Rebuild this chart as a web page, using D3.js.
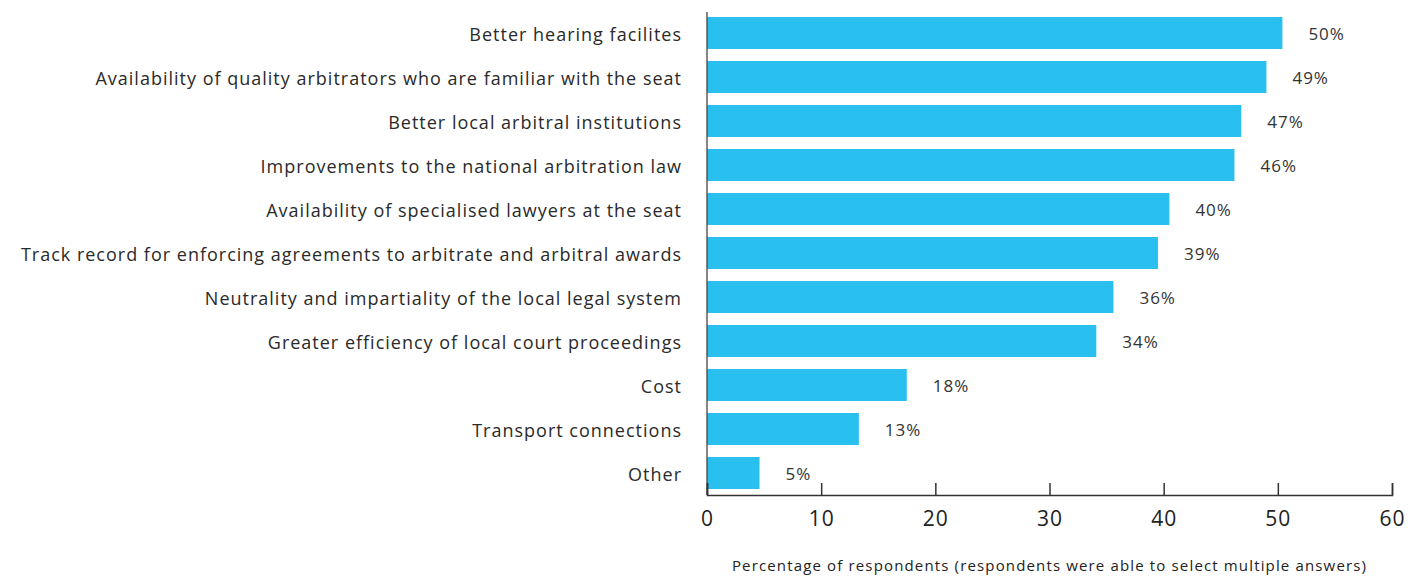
<!DOCTYPE html>
<html>
<head>
<meta charset="utf-8">
<script src="https://cdn.jsdelivr.net/npm/d3@7"></script>
<style>
  body { margin: 0; background: #fff; }
  svg { display: block; }
</style>
</head>
<body>
<div id="chart"></div>
<script>
// Reasons that would make a seat more attractive (survey, multiple answers)
var categories = [
  "Better hearing facilites",
  "Availability of quality arbitrators who are familiar with the seat",
  "Better local arbitral institutions",
  "Improvements to the national arbitration law",
  "Availability of specialised lawyers at the seat",
  "Track record for enforcing agreements to arbitrate and arbitral awards",
  "Neutrality and impartiality of the local legal system",
  "Greater efficiency of local court proceedings",
  "Cost",
  "Transport connections",
  "Other"
];
var values = [50.4, 49.0, 46.8, 46.2, 40.5, 39.5, 35.6, 34.1, 17.5, 13.3, 4.6];
var valueLabels = ["50%", "49%", "47%", "46%", "40%", "39%", "36%", "34%", "18%", "13%", "5%"];
var xTicks = [0, 10, 20, 30, 40, 50, 60];
var axisTitle = "Percentage of respondents (respondents were able to select multiple answers)";

var width = 1412;
var height = 576;
var margin = {top: 11, right: 20, bottom: 81, left: 707};
var font = "'Open Sans', 'Liberation Sans', sans-serif";

var svg = d3.select("#chart")
  .append("svg")
  .attr("width", width)
  .attr("height", height)
  .attr("font-family", font);

var x = d3.scaleLinear()
    .domain([0, 60])
    .range([margin.left, 1392]);

var y = d3.scaleBand()
    .domain(categories)
    .range([margin.top, height - margin.bottom])
    .paddingInner(0.2727)
    .paddingOuter(0.1364);

// bars
svg.append("g")
  .selectAll("rect")
  .data(values)
  .join("rect")
    .attr("x", x(0))
    .attr("y", (d, i) => y(categories[i]))
    .attr("width", d => x(d) - x(0))
    .attr("height", y.bandwidth())
    .attr("fill", "#29c0f0");

// value labels
svg.append("g")
    .attr("font-size", 17)
    .attr("letter-spacing", 1)
    .attr("fill", "#333")
  .selectAll("text")
  .data(values)
  .join("text")
    .attr("x", d => x(d) + 26)
    .attr("y", (d, i) => y(categories[i]) + y.bandwidth() / 2)
    .attr("dy", "0.4em")
    .text((d, i) => valueLabels[i]);

// category labels
svg.append("g")
    .attr("font-size", 18)
    .attr("letter-spacing", 1)
    .attr("fill", "#2a2a2a")
    .attr("text-anchor", "end")
  .selectAll("text")
  .data(categories)
  .join("text")
    .attr("x", x(0) - 25)
    .attr("y", d => y(d) + y.bandwidth() / 2)
    .attr("dy", "0.42em")
    .text(d => d);

// vertical baseline
svg.append("line")
    .attr("x1", x(0)).attr("x2", x(0))
    .attr("y1", margin.top + 1).attr("y2", height - margin.bottom)
    .attr("stroke", "#444")
    .attr("stroke-width", 1.3);

// x axis
var xAxis = svg.append("g")
    .attr("transform", `translate(0,${height - margin.bottom})`)
    .call(d3.axisBottom(x).tickValues(xTicks).tickSize(-12).tickPadding(14));

xAxis.select(".domain").attr("stroke", "#333").attr("stroke-width", 1.5);
xAxis.selectAll(".tick line").attr("stroke", "#333").attr("stroke-width", 1.5);
xAxis.selectAll(".tick text")
    .attr("font-size", 21)
    .attr("letter-spacing", 1)
    .attr("font-family", font)
    .attr("fill", "#222")
    .attr("dy", "0.8em");

svg.append("text")
    .attr("x", (x(0) + x(60)) / 2)
    .attr("y", 571)
    .attr("text-anchor", "middle")
    .attr("font-size", 15)
    .attr("letter-spacing", 1.15)
    .attr("fill", "#222")
    .text(axisTitle);
</script>
</body>
</html>
